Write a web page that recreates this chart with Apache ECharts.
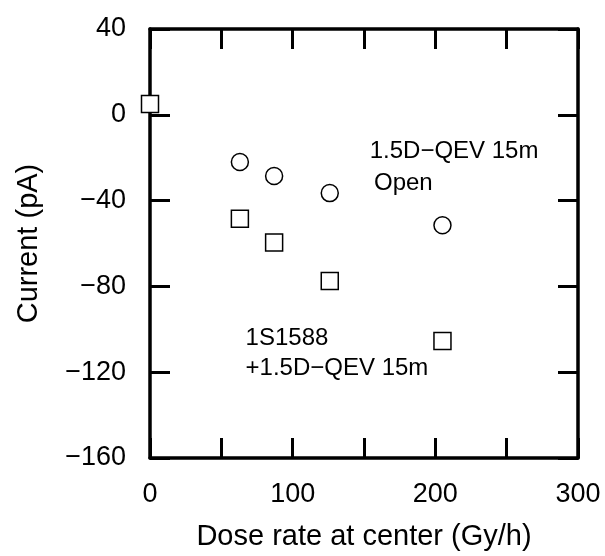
<!DOCTYPE html>
<html>
<head>
<meta charset="utf-8">
<script src="https://cdn.jsdelivr.net/npm/echarts@6/dist/echarts.min.js"></script>
<style>
  html, body { margin: 0; padding: 0; background: #fff; }
  #chart { width: 605px; height: 556px; }
</style>
</head>
<body>
<div id="chart"></div>
<script>
// dose rate (Gy/h) and current (pA)
const openDose = [63, 87, 126, 205];
const openCurrent = [-22, -28.5, -36.5, -51.5];
const diodeDose = [0, 63, 87, 126, 205];
const diodeCurrent = [5, -48.5, -59.5, -77.5, -105.5];

const xTickLabels = [0, 100, 200, 300];
const yTickLabels = [40, 0, -40, -80, -120, -160];

const FONT = '"Liberation Sans", Arial, sans-serif';

function pairs(xs, ys) {
  return xs.map((x, i) => [x, ys[i]]);
}
function minus(v) {
  return String(v).replace('-', '\u2212');
}

const chart = echarts.init(document.getElementById('chart'));

const axisLine = { show: true, onZero: false, lineStyle: { color: '#000', width: 3.5 } };
const axisTick = { show: true, inside: true, length: 20, lineStyle: { color: '#000', width: 3 } };

const option = {
  animation: false,
  grid: { left: 150, right: 27, top: 29, bottom: 98 },
  xAxis: [
    {
      type: 'value', min: 0, max: 300, interval: 50, position: 'bottom',
      axisLine, axisTick, splitLine: { show: false },
      axisLabel: {
        margin: 23, fontSize: 27, color: '#000', fontFamily: FONT,
        formatter: v => xTickLabels.includes(v) ? minus(v) : ''
      },
      name: 'Dose rate at center (Gy/h)', nameLocation: 'middle', nameGap: 64,
      nameTextStyle: { fontSize: 29, color: '#000', fontFamily: FONT }
    },
    {
      type: 'value', min: 0, max: 300, interval: 50, position: 'top',
      axisLine, axisTick, splitLine: { show: false }, axisLabel: { show: false }
    }
  ],
  yAxis: [
    {
      type: 'value', min: -160, max: 40, interval: 40, position: 'left',
      axisLine, axisTick, splitLine: { show: false },
      axisLabel: {
        margin: 24, fontSize: 27, color: '#000', fontFamily: FONT,
        formatter: v => yTickLabels.includes(v) ? minus(v) : ''
      },
      name: 'Current (pA)', nameLocation: 'middle', nameGap: 107,
      nameTextStyle: { fontSize: 29, color: '#000', fontFamily: FONT }
    },
    {
      type: 'value', min: -160, max: 40, interval: 40, position: 'right',
      axisLine, axisTick, splitLine: { show: false }, axisLabel: { show: false }
    }
  ],
  series: [
    {
      name: 'Open', type: 'scatter', symbol: 'circle', symbolSize: 17, clip: false,
      itemStyle: { color: '#fff', borderColor: '#000', borderWidth: 1.5, opacity: 1 },
      data: pairs(openDose, openCurrent), z: 5
    },
    {
      name: '1S1588', type: 'scatter', symbol: 'rect', symbolSize: 17, clip: false,
      itemStyle: { color: '#fff', borderColor: '#000', borderWidth: 1.5, opacity: 1 },
      data: pairs(diodeDose, diodeCurrent), z: 5
    }
  ]
};
chart.setOption(option);

// annotations placed in data coordinates
const notes = [
  { at: [154, -17.2], text: '1.5D\u2212QEV 15m' },
  { at: [157, -31.8], text: 'Open' },
  { at: [67, -104], text: '1S1588' },
  { at: [67, -118], text: '+1.5D\u2212QEV 15m' }
];
chart.setOption({
  graphic: notes.map(n => {
    const p = chart.convertToPixel({ xAxisIndex: 0, yAxisIndex: 0 }, n.at);
    return {
      type: 'text', x: p[0], y: p[1],
      style: { text: n.text, fontSize: 24, fontFamily: FONT, fill: '#000', verticalAlign: 'middle' }
    };
  })
});
</script>
</body>
</html>
